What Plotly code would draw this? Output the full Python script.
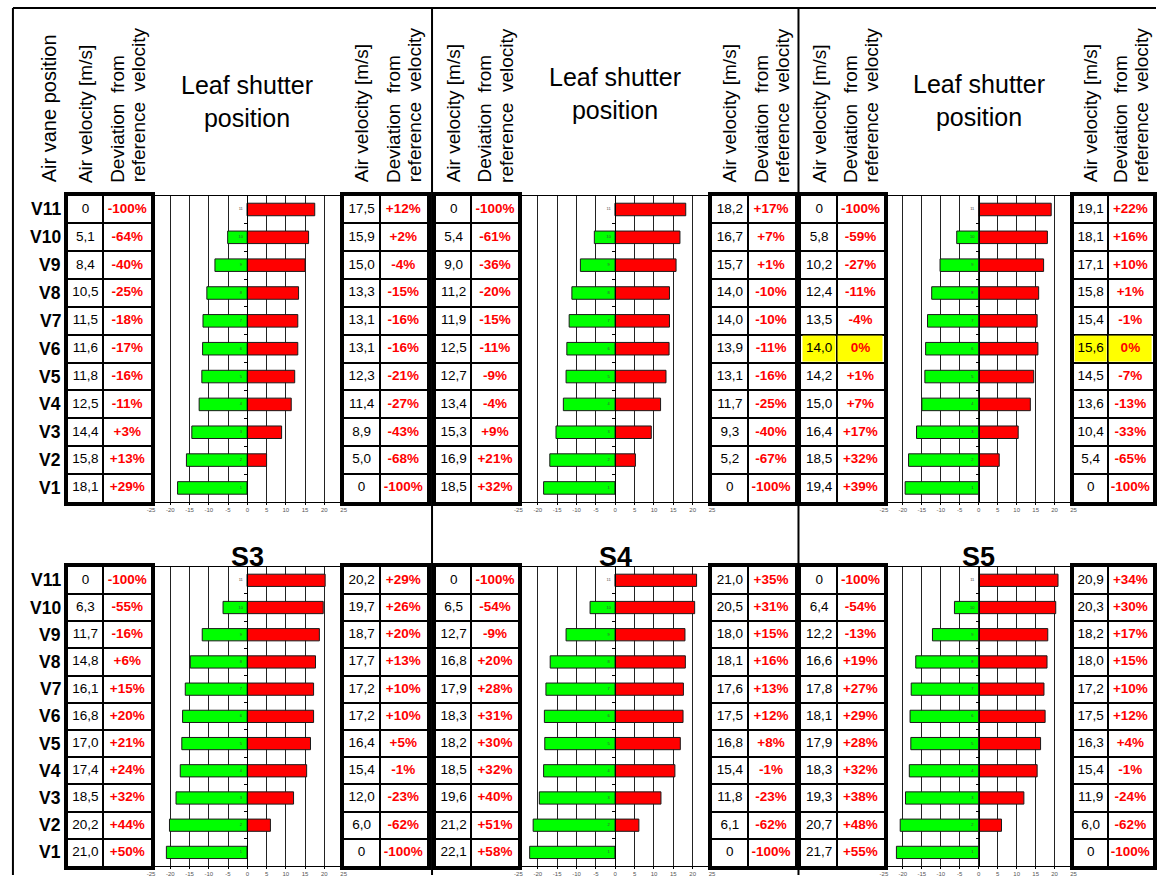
import plotly.graph_objects as go

W, H = 1160, 877

# ---------------- data (rows listed top to bottom: V11 ... V1) ----------------
vanes = ["V11", "V10", "V9", "V8", "V7", "V6", "V5", "V4", "V3", "V2", "V1"]
panel_titles = ["", "", "", "S3", "S4", "S5"]

p1_left_velocity = [0, 5.1, 8.4, 10.5, 11.5, 11.6, 11.8, 12.5, 14.4, 15.8, 18.1]
p1_left_deviation = [-100, -64, -40, -25, -18, -17, -16, -11, 3, 13, 29]
p1_right_velocity = [17.5, 15.9, 15.0, 13.3, 13.1, 13.1, 12.3, 11.4, 8.9, 5.0, 0]
p1_right_deviation = [12, 2, -4, -15, -16, -16, -21, -27, -43, -68, -100]

p2_left_velocity = [0, 5.4, 9.0, 11.2, 11.9, 12.5, 12.7, 13.4, 15.3, 16.9, 18.5]
p2_left_deviation = [-100, -61, -36, -20, -15, -11, -9, -4, 9, 21, 32]
p2_right_velocity = [18.2, 16.7, 15.7, 14.0, 14.0, 13.9, 13.1, 11.7, 9.3, 5.2, 0]
p2_right_deviation = [17, 7, 1, -10, -10, -11, -16, -25, -40, -67, -100]

p3_left_velocity = [0, 5.8, 10.2, 12.4, 13.5, 14.0, 14.2, 15.0, 16.4, 18.5, 19.4]
p3_left_deviation = [-100, -59, -27, -11, -4, 0, 1, 7, 17, 32, 39]
p3_right_velocity = [19.1, 18.1, 17.1, 15.8, 15.4, 15.6, 14.5, 13.6, 10.4, 5.4, 0]
p3_right_deviation = [22, 16, 10, 1, -1, 0, -7, -13, -33, -65, -100]

p4_left_velocity = [0, 6.3, 11.7, 14.8, 16.1, 16.8, 17.0, 17.4, 18.5, 20.2, 21.0]
p4_left_deviation = [-100, -55, -16, 6, 15, 20, 21, 24, 32, 44, 50]
p4_right_velocity = [20.2, 19.7, 18.7, 17.7, 17.2, 17.2, 16.4, 15.4, 12.0, 6.0, 0]
p4_right_deviation = [29, 26, 20, 13, 10, 10, 5, -1, -23, -62, -100]

p5_left_velocity = [0, 6.5, 12.7, 16.8, 17.9, 18.3, 18.2, 18.5, 19.6, 21.2, 22.1]
p5_left_deviation = [-100, -54, -9, 20, 28, 31, 30, 32, 40, 51, 58]
p5_right_velocity = [21.0, 20.5, 18.0, 18.1, 17.6, 17.5, 16.8, 15.4, 11.8, 6.1, 0]
p5_right_deviation = [35, 31, 15, 16, 13, 12, 8, -1, -23, -62, -100]

p6_left_velocity = [0, 6.4, 12.2, 16.6, 17.8, 18.1, 17.9, 18.3, 19.3, 20.7, 21.7]
p6_left_deviation = [-100, -54, -13, 19, 27, 29, 28, 32, 38, 48, 55]
p6_right_velocity = [20.9, 20.3, 18.2, 18.0, 17.2, 17.5, 16.3, 15.4, 11.9, 6.0, 0]
p6_right_deviation = [34, 30, 17, 15, 10, 12, 4, -1, -24, -62, -100]

highlighted_vane = [None, None, "V6", None, None, None]

x_ticks = [-25, -20, -15, -10, -5, 0, 5, 10, 15, 20, 25]

panels = [
    (p1_left_velocity, p1_left_deviation, p1_right_velocity, p1_right_deviation),
    (p2_left_velocity, p2_left_deviation, p2_right_velocity, p2_right_deviation),
    (p3_left_velocity, p3_left_deviation, p3_right_velocity, p3_right_deviation),
    (p4_left_velocity, p4_left_deviation, p4_right_velocity, p4_right_deviation),
    (p5_left_velocity, p5_left_deviation, p5_right_velocity, p5_right_deviation),
    (p6_left_velocity, p6_left_deviation, p6_right_velocity, p6_right_deviation),
]

# ---------------- layout geometry (page pixels) ----------------
FONT = "Arial, Liberation Sans, sans-serif"
col_geom = [
    dict(lt=(64, 148), ch=(148, 342), rt=(342, 426)),
    dict(lt=(435, 518), ch=(518, 713), rt=(713, 796)),
    dict(lt=(803, 886), ch=(886, 1077), rt=(1077, 1157)),
]
row_geom = [(196, 503), (568, 868)]
DIV = 0.43  # column divider inside a table (fraction)


def px(x):
    return x / W


def py(y):
    return 1 - y / H


def fmt_vel(v):
    return "0" if v == 0 else f"{v:.1f}".replace(".", ",")


def fmt_dev(d):
    return "0%" if d == 0 else f"{d:+d}%"


yvals = list(range(len(vanes), 0, -1))
boundaries = [k + 0.5 for k in range(1, len(vanes))]

fig = go.Figure()
layout_axes = {}
annotations = []


def add_table(n, xdom, ydom, vel, dev, hl):
    xa, ya = f"x{n}", f"y{n}"
    if hl is not None:
        z = [[(1 if v == hl else None), (1 if v == hl else None)] for v in vanes]
        fig.add_trace(go.Heatmap(
            x=[0, DIV, 1], y=[y + 0.5 for y in yvals] + [0.5], z=z,
            colorscale=[[0, "#FFFF00"], [1, "#FFFF00"]], showscale=False,
            xgap=2, ygap=2, hoverinfo="skip", xaxis=xa, yaxis=ya))
    fig.add_trace(go.Scatter(
        x=[DIV / 2] * len(vel), y=yvals, text=[fmt_vel(v) for v in vel],
        mode="text", textfont=dict(family=FONT, size=13.5, color="black"),
        hoverinfo="skip", showlegend=False, xaxis=xa, yaxis=ya))
    fig.add_trace(go.Scatter(
        x=[(1 + DIV) / 2] * len(dev), y=yvals, text=[f"<b>{fmt_dev(d)}</b>" for d in dev],
        mode="text", textfont=dict(family=FONT, size=13.5, color="#FF0000"),
        hoverinfo="skip", showlegend=False, xaxis=xa, yaxis=ya))
    layout_axes[f"xaxis{n}"] = dict(
        domain=[px(xdom[0]), px(xdom[1])], range=[0, 1], anchor=ya,
        showline=True, linewidth=4, linecolor="black", mirror=True,
        tickmode="array", tickvals=[DIV], showgrid=True, gridcolor="black",
        gridwidth=2, showticklabels=False, ticks="", zeroline=False, fixedrange=True)
    layout_axes[f"yaxis{n}"] = dict(
        domain=[py(ydom[1]), py(ydom[0])], range=[0.5, len(vanes) + 0.5], anchor=xa,
        showline=True, linewidth=4, linecolor="black", mirror=True,
        tickmode="array", tickvals=boundaries, showgrid=True, gridcolor="black",
        gridwidth=2, showticklabels=False, ticks="", zeroline=False, fixedrange=True)


def add_chart(n, xdom, ydom, lv, rv):
    xa, ya = f"x{n}", f"y{n}"
    fig.add_trace(go.Bar(
        y=yvals, x=[-v for v in lv], orientation="h", width=0.45,
        marker=dict(color="#00FF00", line=dict(color="#1a1a1a", width=1)),
        hoverinfo="skip", showlegend=False, xaxis=xa, yaxis=ya))
    fig.add_trace(go.Bar(
        y=yvals, x=rv, orientation="h", width=0.45,
        marker=dict(color="#FF0000", line=dict(color="#1a1a1a", width=1)),
        hoverinfo="skip", showlegend=False, xaxis=xa, yaxis=ya))
    fig.add_trace(go.Scatter(
        x=[-1.7] * len(vanes), y=yvals, text=[v[1:] for v in vanes],
        mode="text", textfont=dict(family=FONT, size=4, color="#444"),
        hoverinfo="skip", showlegend=False, xaxis=xa, yaxis=ya))
    zero_px = (xdom[0] + xdom[1]) / 2
    layout_axes[f"xaxis{n}"] = dict(
        domain=[px(xdom[0]), px(xdom[1])], range=[-25, 25], anchor=ya,
        tickmode="array", tickvals=x_ticks, ticktext=[str(t) for t in x_ticks],
        ticks="outside", ticklen=2, tickcolor="black", tickwidth=1,
        tickfont=dict(family=FONT, size=6, color="#555"),
        showgrid=True, gridcolor="#222", gridwidth=1,
        showline=True, linecolor="black", linewidth=1, mirror=True,
        zeroline=False, fixedrange=True)
    layout_axes[f"yaxis{n}"] = dict(
        domain=[py(ydom[1]), py(ydom[0])], range=[0.5, len(vanes) + 0.5],
        anchor="free", position=px(zero_px),
        showline=True, linecolor="black", linewidth=1,
        tickmode="array", tickvals=boundaries, ticks="outside", ticklen=3,
        tickcolor="black", showticklabels=False, showgrid=False,
        zeroline=False, fixedrange=True)


n = 1
for p, (lv, ld, rv, rd) in enumerate(panels):
    cg = col_geom[p % 3]
    rg = row_geom[p // 3]
    add_table(n, cg["lt"], rg, lv, ld, highlighted_vane[p])
    if p % 3 == 0:
        for v, y in zip(vanes, yvals):
            annotations.append(dict(
                x=px(cg["lt"][0] - 5), y=y, xref="paper", yref=f"y{n}",
                text=f"<b>{v}</b>", showarrow=False, xanchor="right", yanchor="middle",
                font=dict(family=FONT, size=17.5, color="black")))
    add_chart(n + 1, cg["ch"], rg, lv, rv)
    add_table(n + 2, cg["rt"], rg, rv, rd, highlighted_vane[p])
    if panel_titles[p]:
        annotations.append(dict(
            x=px((cg["ch"][0] + cg["ch"][1]) / 2), y=py(558), xref="paper", yref="paper",
            text=f"<b>{panel_titles[p]}</b>", showarrow=False, xanchor="center",
            yanchor="middle", font=dict(family=FONT, size=27, color="black")))
    n += 3


# ---------------- header texts ----------------
def vtext(xc, text, size=19, bottom=185):
    annotations.append(dict(
        x=px(xc), y=py(bottom), xref="paper", yref="paper", text=text,
        textangle=-90, showarrow=False, xanchor="center", yanchor="bottom",
        font=dict(family=FONT, size=size, color="black")))


leaf_y = [102, 94, 101]
vtext(45, "Air vane position", size=20)
for c, cg in enumerate(col_geom):
    for key in ("lt", "rt"):
        l, r = cg[key]
        d = l + DIV * (r - l)
        vtext((l + d) / 2, "Air velocity [m/s]")
        dc = (d + r) / 2
        vtext(dc - 10, "Deviation  from")
        vtext(dc + 11, "reference  velocity")
    annotations.append(dict(
        x=px((cg["ch"][0] + cg["ch"][1]) / 2), y=py(leaf_y[c]),
        xref="paper", yref="paper", text="Leaf shutter<br>position",
        showarrow=False, xanchor="center", yanchor="middle",
        font=dict(family=FONT, size=25, color="black")))

# ---------------- frame / separator lines ----------------
line_style = dict(color="black", width=2)
shapes = [
    dict(type="line", xref="paper", yref="paper", x0=px(9), x1=px(9), y0=py(8), y1=0, line=line_style),
    dict(type="line", xref="paper", yref="paper", x0=px(9), x1=1, y0=py(8), y1=py(8), line=line_style),
    dict(type="line", xref="paper", yref="paper", x0=px(431), x1=px(431), y0=py(8), y1=0, line=line_style),
    dict(type="line", xref="paper", yref="paper", x0=px(800), x1=px(800), y0=py(8), y1=0, line=line_style),
]

fig.update_layout(
    width=W, height=H, autosize=False,
    margin=dict(l=0, r=0, t=0, b=0),
    paper_bgcolor="white", plot_bgcolor="white",
    barmode="overlay", showlegend=False,
    annotations=annotations, shapes=shapes,
    font=dict(family=FONT),
    **layout_axes,
)

# remove the default page margin so the figure sits at the window's top-left corner
fig.write_html("out.html", config={"displayModeBar": False},
               post_script="document.body.style.margin='0';")
